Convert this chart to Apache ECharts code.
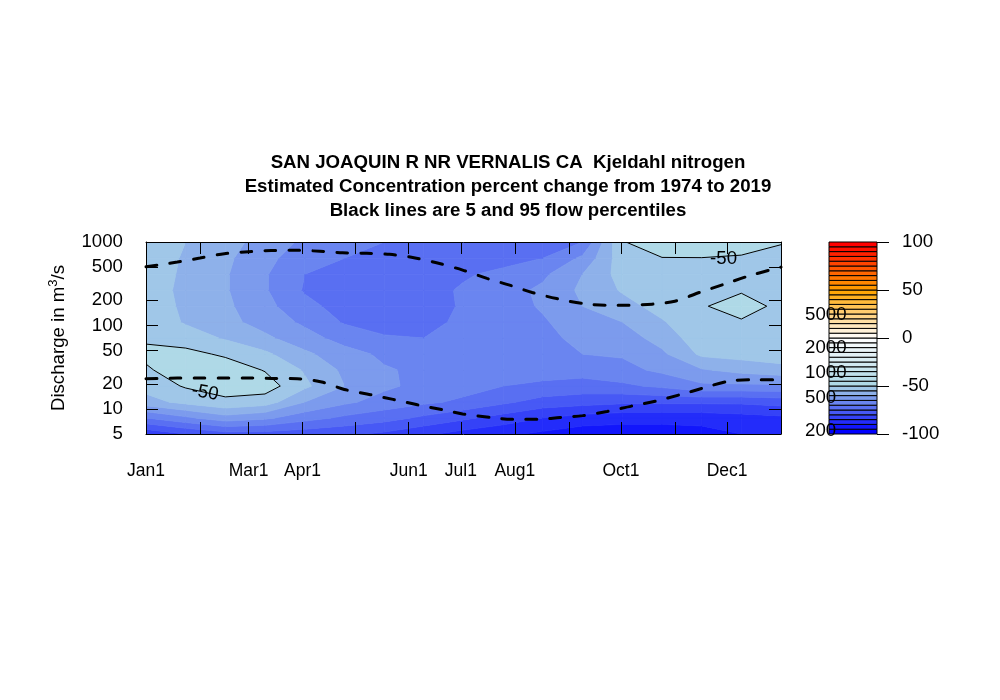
<!DOCTYPE html>
<html><head><meta charset="utf-8">
<script src="https://cdn.jsdelivr.net/npm/echarts@6/dist/echarts.min.js"></script>
<style>html,body{margin:0;padding:0;background:#fff}#c{width:1000px;height:700px}</style>
</head><body><div id="c"></div>
<script>
const FF = "'Liberation Sans', Arial, Helvetica, sans-serif";
const titleLines = [
  'SAN JOAQUIN R NR VERNALIS CA  Kjeldahl nitrogen',
  'Estimated Concentration percent change from 1974 to 2019',
  'Black lines are 5 and 95 flow percentiles'
];
// x: day of year; month tick positions and labels
const monthStarts = [0, 31, 59, 90, 120, 151, 181, 212, 243, 273, 304, 334, 365];
const labelDays = [0, 59, 90, 151, 181, 212, 273, 334];
const labelNames = ['Jan1', 'Mar1', 'Apr1', 'Jun1', 'Jul1', 'Aug1', 'Oct1', 'Dec1'];
const flowTicks = [5, 10, 20, 50, 100, 200, 500, 1000];
const keyTicks = [-100, -50, 0, 50, 100];
const keyFlowLabels = [200, 500, 1000, 2000, 5000];
const levels = [-100,-95,-90,-85,-80,-75,-70,-65,-60,-55,-50,-45,-40,-35,-30,-25,-20,-15,-10,-5,0,5,10,15,20,25,30,35,40,45,50,55,60,65,70,75,80,85,90,95,100];
const lineLevels = [-50];

// surface grid
const dayGrid = [0, 22.8, 45.6, 68.4, 91.3, 114.1, 136.9, 159.7, 182.5, 205.3, 228.1, 250.9, 273.8, 296.6, 319.4, 342.2, 365];
const flowGrid = [5, 7.8, 12.1, 18.8, 29.2, 45.4, 70.5, 110, 170, 264, 411, 640, 1000];
// percent change, one row per flowGrid value (bottom to top), columns follow dayGrid
const pctChange = [
  [-84, -80, -77, -77, -78, -79, -81, -84, -87, -89, -91, -93, -93, -93, -92, -90, -88],
  [-70, -66, -62, -64, -68, -71, -73, -76, -79, -82, -85, -87, -88, -88, -88, -87, -86],
  [-57, -53.5, -50.7, -52.5, -60, -64, -67, -69, -71, -74, -77, -78, -79, -79, -79, -79, -78],
  [-53, -49.5, -48.5, -47.5, -54, -60, -64, -66.5, -68, -70, -71, -72, -71, -69, -66, -66, -66],
  [-50.6, -47.5, -47, -50.3, -55.5, -61, -64.5, -66, -67, -68, -68, -68, -66.5, -64, -60.5, -58.5, -57],
  [-49, -48.5, -50.8, -54, -59, -63, -66, -67, -68, -67.5, -66.5, -65, -64.5, -61, -54, -53, -52],
  [-50.6, -52.5, -55.5, -59, -63, -67, -69.5, -70, -68.5, -67.5, -66, -64, -62.5, -58, -52, -51, -51],
  [-51.5, -55.5, -58.5, -62, -66, -70.5, -72, -71.5, -69, -67.5, -65.5, -62.5, -60, -55.5, -50.8, -50.23, -50.8],
  [-52, -56, -59, -63.5, -68.5, -72, -73, -72, -69.5, -67, -64.5, -60, -57, -53, -50.2, -49, -50.56],
  [-52, -56.5, -59.5, -64.5, -70.5, -72.5, -73, -71.5, -69.5, -67, -64, -59, -54.5, -52, -50.8, -50.23, -50.8],
  [-52, -56, -59.5, -64.5, -70, -72, -72, -71, -70.5, -69, -66, -60, -53, -51.5, -51, -51, -51],
  [-52.5, -55.5, -59, -63.5, -68, -70, -71, -71.5, -72, -71.5, -70, -64, -52, -50.05, -50.05, -50.3, -50.5],
  [-53, -55, -58, -62, -66, -67.5, -70, -72, -73, -73, -72.5, -70, -50.1, -49, -48.5, -48.7, -49.9]
];
// 95th (upper) and 5th (lower) flow percentile lines
const upperDays = [0, 18, 31, 45, 59, 72, 86, 100, 113, 127, 140, 154, 167, 182, 196, 209, 222, 236, 251, 264, 277, 291, 304, 318, 332, 345, 360, 365];
const upperFlow = [505, 575, 642, 723, 764, 790, 795, 775, 743, 732, 711, 648, 564, 461, 366, 304, 248, 210, 183, 175, 175, 180, 195, 248, 310, 383, 470, 500];
const lowerDays = [0, 18, 31, 45, 59, 72, 87, 101, 114, 129, 142, 156, 170, 182, 198, 210, 225, 238, 251, 265, 279, 293, 307, 320, 335, 348, 362, 365];
const lowerFlow = [23.0, 23.4, 23.4, 23.4, 23.4, 23.2, 23.0, 21.0, 17.1, 14.8, 13.0, 11.2, 9.8, 8.7, 7.9, 7.5, 7.5, 7.9, 8.3, 9.3, 10.8, 12.4, 14.8, 17.7, 21.5, 22.4, 22.4, 22.6];
// contour labels
const contourLabelDays = [34, 332];
const contourLabelFlow = [15.7, 625];
const contourLabelRot = [-0.17, 0];

const lg = Math.log10;
const rampColors = [[0,0,255],[173,216,230],[255,255,255],[255,165,0],[255,0,0]];
function ramp(t) {
  const n = rampColors.length - 1, p = t * n;
  const i = Math.min(Math.floor(p), n - 1), f = p - i;
  const a = rampColors[i], b = rampColors[i + 1];
  return 'rgb(' + [0,1,2].map(c => Math.round(a[c] + f * (b[c] - a[c]))).join(',') + ')';
}
const nBands = levels.length - 1;
const bandColors = [];
for (let k = 0; k < nBands; k++) bandColors.push(ramp(k / (nBands - 1)));

function clipPoly(pts, level, keepAbove) {
  const out = [];
  for (let i = 0; i < pts.length; i++) {
    const a = pts[i], b = pts[(i + 1) % pts.length];
    const ain = keepAbove ? a.v >= level : a.v <= level;
    const bin = keepAbove ? b.v >= level : b.v <= level;
    if (ain) out.push(a);
    if (ain !== bin) {
      const t = (level - a.v) / (b.v - a.v);
      out.push({x: a.x + t * (b.x - a.x), y: a.y + t * (b.y - a.y), v: level});
    }
  }
  return out;
}
function node(i, j) { return {x: dayGrid[i], y: lg(flowGrid[j]), v: pctChange[j][i]}; }
const cells = [];
for (let j = 0; j < flowGrid.length - 1; j++)
  for (let i = 0; i < dayGrid.length - 1; i++)
    cells.push([dayGrid[i], lg(flowGrid[j]), i, j]);

function quad(api) {
  const i = api.value(2), j = api.value(3);
  return [node(i, j), node(i + 1, j), node(i + 1, j + 1), node(i, j + 1)];
}
function renderFill(params, api) {
  const q = quad(api);
  const vs = q.map(p => p.v);
  const vmin = Math.min.apply(null, vs), vmax = Math.max.apply(null, vs);
  const children = [];
  for (let k = 0; k < nBands; k++) {
    const lo = levels[k], hi = levels[k + 1];
    if (hi <= vmin || lo >= vmax) continue;
    let poly = clipPoly(q, lo, true);
    poly = clipPoly(poly, hi, false);
    if (poly.length < 3) continue;
    children.push({type: 'polygon', shape: {points: poly.map(p => api.coord([p.x, p.y]))},
      style: {fill: bandColors[k], stroke: bandColors[k], lineWidth: 0.8, lineJoin: 'round'}});
  }
  return {type: 'group', children};
}
function renderLines(params, api) {
  const q = quad(api);
  const children = [];
  lineLevels.forEach(L => {
    const pts = [];
    for (let e = 0; e < 4; e++) {
      const a = q[e], b = q[(e + 1) % 4];
      if ((a.v - L) * (b.v - L) < 0) {
        const t = (L - a.v) / (b.v - a.v);
        pts.push(api.coord([a.x + t * (b.x - a.x), a.y + t * (b.y - a.y)]));
      }
    }
    const segs = [];
    if (pts.length === 2) segs.push([pts[0], pts[1]]);
    else if (pts.length === 4) {
      const c = (q[0].v + q[1].v + q[2].v + q[3].v) / 4;
      if ((c - L) * (q[0].v - L) > 0) { segs.push([pts[0], pts[1]]); segs.push([pts[2], pts[3]]); }
      else { segs.push([pts[3], pts[0]]); segs.push([pts[1], pts[2]]); }
    }
    segs.forEach(s => children.push({type: 'line', shape: {x1: s[0][0], y1: s[0][1], x2: s[1][0], y2: s[1][1]},
      style: {stroke: '#000', lineWidth: 1}}));
  });
  return {type: 'group', children};
}

const chart = echarts.init(document.getElementById('c'), null, {renderer: 'canvas', width: 1000, height: 700});
const axisLineStyle = {color: '#000', width: 1};
const option = {
  animation: false,
  backgroundColor: '#fff',
  textStyle: {fontFamily: FF},
  graphic: titleLines.map((t, i) => ({
    type: 'text', x: 508, y: 163 + 24 * i,
    style: {text: t, fontSize: 18.67, fontWeight: 'bold', fontFamily: FF, fill: '#000',
      align: 'center', verticalAlign: 'middle', textAlign: 'center', textVerticalAlign: 'middle'}
  })),
  grid: [
    {left: 146, top: 242, width: 635, height: 192},
    {left: 829, top: 242, width: 48, height: 192}
  ],
  xAxis: [
    {type: 'value', gridIndex: 0, min: 0, max: 365, position: 'bottom', z: 5,
      axisLine: {show: true, onZero: false, lineStyle: axisLineStyle},
      axisTick: {show: true, inside: true, length: 12, customValues: monthStarts, lineStyle: axisLineStyle},
      axisLabel: {show: true, customValues: labelDays, margin: 28, fontSize: 17.5, color: '#000', fontFamily: FF,
        formatter: v => labelNames[labelDays.indexOf(v)] || ''},
      splitLine: {show: false}},
    {type: 'value', gridIndex: 0, min: 0, max: 365, position: 'top', z: 5,
      axisLine: {show: true, onZero: false, lineStyle: axisLineStyle},
      axisTick: {show: true, inside: true, length: 12, customValues: monthStarts, lineStyle: axisLineStyle},
      axisLabel: {show: false}, splitLine: {show: false}},
    {type: 'value', gridIndex: 1, min: 0, max: 1, show: false, axisLine: {onZero: false}}
  ],
  yAxis: [
    {type: 'value', gridIndex: 0, min: lg(5), max: lg(1000), position: 'left', z: 5,
      name: '{n|Discharge in m}{s|3}{n|/s}', nameLocation: 'middle', nameGap: 76, nameRotate: 90,
      nameTextStyle: {rich: {
        n: {fontSize: 18.67, fontFamily: FF, color: '#000'},
        s: {fontSize: 13, fontFamily: FF, color: '#000', padding: [0, 0, 10, 0]}}},
      axisLine: {show: true, onZero: false, lineStyle: axisLineStyle},
      axisTick: {show: true, inside: true, length: 12, customValues: flowTicks.map(lg), lineStyle: axisLineStyle},
      axisLabel: {show: true, customValues: flowTicks.map(lg), margin: 23, fontSize: 18.67, color: '#000', fontFamily: FF,
        formatter: v => String(Math.round(Math.pow(10, v)))},
      splitLine: {show: false}},
    {type: 'value', gridIndex: 0, min: lg(5), max: lg(1000), position: 'right', z: 5,
      axisLine: {show: true, onZero: false, lineStyle: axisLineStyle},
      axisTick: {show: true, inside: true, length: 12, customValues: flowTicks.map(lg), lineStyle: axisLineStyle},
      axisLabel: {show: false}, splitLine: {show: false}},
    {type: 'value', gridIndex: 1, min: -100, max: 100, interval: 50, position: 'right', z: 5,
      axisLine: {show: false, onZero: false},
      axisTick: {show: true, inside: false, length: 12, customValues: keyTicks, lineStyle: axisLineStyle},
      axisLabel: {show: true, customValues: keyTicks, margin: 25, fontSize: 18.67, color: '#000', fontFamily: FF},
      splitLine: {show: false}},
    {type: 'value', gridIndex: 1, min: lg(200) - 3 / 83.2, max: lg(200) - 3 / 83.2 + 192 / 83.2, position: 'left', z: 10,
      axisLine: {show: false, onZero: false}, axisTick: {show: false}, splitLine: {show: false},
      axisLabel: {show: true, customValues: keyFlowLabels.map(lg), align: 'left', margin: 24, fontSize: 18.67,
        color: '#000', fontFamily: FF, formatter: v => String(Math.round(Math.pow(10, v)))}}
  ],
  series: [
    {type: 'custom', name: 'fill', xAxisIndex: 0, yAxisIndex: 0, z: 1, clip: true, silent: true,
      data: cells, encode: {x: 0, y: 1}, renderItem: renderFill},
    {type: 'custom', name: 'contour', xAxisIndex: 0, yAxisIndex: 0, z: 2, clip: true, silent: true,
      data: cells, encode: {x: 0, y: 1}, renderItem: renderLines},
    {type: 'line', name: 'q95', xAxisIndex: 0, yAxisIndex: 0, z: 3, symbol: 'none', smooth: 0.3,
      data: upperDays.map((d, i) => [d, lg(upperFlow[i])]),
      lineStyle: {color: '#000', width: 3, type: [11, 13], cap: 'round'}},
    {type: 'line', name: 'q5', xAxisIndex: 0, yAxisIndex: 0, z: 3, symbol: 'none', smooth: 0.3,
      data: lowerDays.map((d, i) => [d, lg(lowerFlow[i])]),
      lineStyle: {color: '#000', width: 3, type: [11, 13], cap: 'round'}},
    {type: 'custom', name: 'labels', xAxisIndex: 0, yAxisIndex: 0, z: 4, silent: true,
      data: contourLabelDays.map((d, i) => [d, lg(contourLabelFlow[i]), i]), encode: {x: 0, y: 1},
      renderItem: (params, api) => {
        const p = api.coord([api.value(0), api.value(1)]);
        const i = api.value(2);
        return {type: 'text', x: p[0], y: p[1], rotation: contourLabelRot[i],
          style: {text: String(lineLevels[0]), fontSize: 18.67, fontFamily: FF, fill: '#000',
            align: 'center', verticalAlign: 'middle', textAlign: 'center', textVerticalAlign: 'middle'}};
      }},
    {type: 'custom', name: 'key', xAxisIndex: 2, yAxisIndex: 2, z: 2, silent: true,
      data: bandColors.map((c, k) => [0.5, levels[k], k]), encode: {x: 0, y: 1},
      renderItem: (params, api) => {
        const k = api.value(2);
        const a = api.coord([0, levels[k + 1]]), b = api.coord([1, levels[k]]);
        return {type: 'rect', shape: {x: a[0], y: a[1], width: b[0] - a[0], height: b[1] - a[1]},
          style: {fill: bandColors[k], stroke: '#000', lineWidth: 1}};
      }}
  ]
};
chart.setOption(option);
</script>
</body></html>
